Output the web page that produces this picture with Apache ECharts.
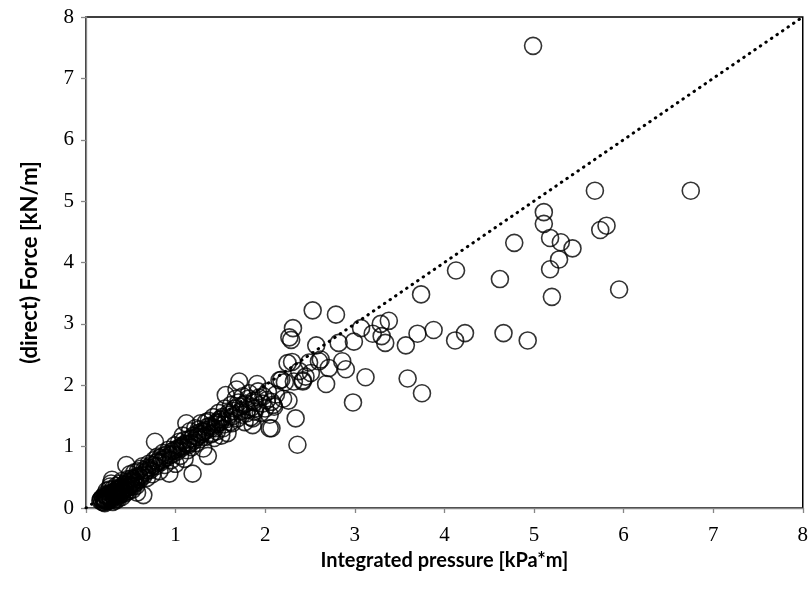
<!DOCTYPE html>
<html><head><meta charset="utf-8">
<script src="https://cdn.jsdelivr.net/npm/echarts@6/dist/echarts.min.js"></script>
<style>html,body{margin:0;padding:0;background:#fff}#c{width:811px;height:591px}</style>
</head><body><div id="c"></div>
<script>
const xTicks = [0,1,2,3,4,5,6,7,8];
const yTicks = [0,1,2,3,4,5,6,7,8];
const xTitle = 'Integrated pressure [kPa*m]';
const yTitle = '(direct) Force [kN/m]';
const refLine = [[0,0],[8,8]];
const pressure = [
0.16,0.18,0.20,0.22,0.24,0.19,0.21,0.25,0.27,0.28,0.30,0.26,0.23,0.29,0.31,0.33,0.34,0.32,0.30,0.27,
0.35,0.36,0.38,0.37,0.34,0.39,0.40,0.41,0.42,0.44,0.43,0.45,0.46,0.48,0.47,0.50,0.52,0.49,0.53,0.55,
0.56,0.58,0.60,0.57,0.62,0.64,0.63,0.66,0.68,0.70,0.72,0.74,0.76,0.77,0.78,0.80,0.82,0.84,0.86,0.88,
0.90,0.92,0.93,0.95,0.97,0.99,1.00,1.02,1.04,1.05,1.07,1.08,1.10,1.11,1.12,1.13,1.15,1.16,1.18,1.19,
1.20,1.22,1.23,1.25,1.27,1.28,1.30,1.31,1.33,1.35,1.36,1.37,1.39,1.40,1.42,1.43,1.45,1.46,1.48,1.50,
1.51,1.53,1.55,1.56,1.57,1.58,1.60,1.62,1.63,1.65,1.67,1.68,1.69,1.71,1.72,1.74,1.75,1.77,1.78,1.80,
1.82,1.84,1.86,1.87,1.89,1.91,1.93,1.95,1.97,2.00,2.03,2.05,2.07,2.07,2.09,2.12,2.16,2.20,2.26,2.22,
0.29,0.45,0.22,0.26,0.33,0.38,0.21,0.24,0.17,0.28,0.31,0.36,0.40,0.44,0.51,0.54,0.59,0.61,0.65,0.69,
0.73,0.79,0.83,0.87,0.91,0.96,1.01,1.06,1.09,1.14,1.17,1.21,1.24,1.26,1.29,1.32,1.34,1.38,1.41,1.44,
1.47,1.49,1.52,1.54,1.59,1.61,1.64,1.66,1.70,1.73,1.76,1.79,1.81,1.85,1.88,1.92,1.98,2.02,1.88,1.86,
0.17,0.19,0.21,0.23,0.25,0.27,0.29,0.31,0.33,0.35,0.37,0.39,0.41,0.43,0.45,0.47,0.49,0.51,0.53,0.55,
0.20,0.24,0.28,0.32,0.36,0.40,0.44,0.48,0.52,0.56,0.60,0.64,0.68,0.72,0.76,0.80,0.85,0.89,0.94,0.98,
1.03,1.08,1.13,1.18,1.24,1.29,1.34,1.40,1.46,1.52,
2.27,2.29,2.31,2.53,2.79,2.57,2.82,2.99,3.07,3.20,3.29,3.38,3.30,3.34,3.70,3.88,3.57,4.12,4.23,4.13,
3.74,2.30,2.49,2.60,2.86,2.71,2.90,2.38,2.45,2.51,2.42,2.68,3.12,3.59,3.75,2.98,2.34,2.36,2.25,2.62,
2.32,2.42,2.18,2.10,2.05,
4.99,5.68,6.75,5.11,5.11,4.78,5.18,5.30,5.43,5.74,5.81,5.28,5.18,4.62,5.95,5.20,4.66,4.93
];
const force = [
0.12,0.10,0.14,0.11,0.16,0.18,0.22,0.12,0.18,0.13,0.10,0.24,0.28,0.22,0.17,0.12,0.20,0.27,0.31,0.35,
0.26,0.15,0.22,0.30,0.36,0.33,0.18,0.27,0.38,0.24,0.31,0.42,0.34,0.28,0.47,0.38,0.30,0.55,0.44,0.50,
0.36,0.60,0.46,0.25,0.54,0.21,0.68,0.58,0.49,0.72,0.62,0.55,0.78,1.08,0.68,0.84,0.60,0.75,0.90,0.70,
0.82,0.95,0.56,0.78,0.88,1.02,0.72,0.92,1.08,0.85,0.98,1.18,0.80,1.05,1.38,0.94,1.12,1.25,0.99,0.56,
1.18,1.30,1.06,1.22,1.12,1.38,1.25,0.97,1.16,1.32,0.85,1.42,1.20,1.30,1.48,1.14,1.36,1.25,1.55,1.40,
1.18,1.30,1.62,1.84,1.45,1.22,1.52,1.68,1.38,1.58,1.78,1.93,1.46,2.06,1.65,1.52,1.82,1.40,1.70,1.60,
1.87,1.48,1.35,1.75,1.62,2.02,1.80,1.55,1.70,1.62,1.90,1.52,1.30,1.73,1.68,1.85,2.08,1.78,1.75,2.05,
0.46,0.70,0.20,0.30,0.26,0.40,0.08,0.20,0.15,0.40,0.24,0.32,0.44,0.36,0.48,0.58,0.52,0.64,0.62,0.66,
0.70,0.74,0.82,0.80,0.88,0.92,0.96,1.00,1.10,1.02,1.06,1.10,1.16,1.28,1.20,1.24,1.40,1.34,1.22,1.30,
1.38,1.44,1.48,1.36,1.55,1.40,1.50,1.62,1.72,1.58,1.68,1.54,1.78,1.64,1.72,1.90,1.82,1.76,1.57,1.46,
0.14,0.16,0.13,0.19,0.21,0.15,0.25,0.20,0.29,0.23,0.32,0.27,0.35,0.30,0.39,0.33,0.43,0.37,0.47,0.42,
0.09,0.11,0.16,0.14,0.19,0.23,0.26,0.34,0.35,0.41,0.50,0.52,0.61,0.65,0.70,0.76,0.78,0.86,0.86,0.94,
0.97,1.02,1.04,1.13,1.15,1.21,1.27,1.33,1.40,1.45,
2.78,2.74,2.93,3.22,3.15,2.65,2.69,2.71,2.93,2.84,3.00,3.05,2.80,2.69,2.84,2.90,2.65,2.73,2.85,3.87,
3.48,2.38,2.37,2.39,2.39,2.28,2.26,2.23,2.14,2.20,2.06,2.02,2.13,2.11,1.87,1.72,1.46,1.03,2.36,2.42,
2.06,2.08,2.09,1.65,1.30,
7.53,5.17,5.17,4.82,4.63,4.32,4.40,4.33,4.23,4.53,4.60,4.05,3.89,3.73,3.56,3.44,2.85,2.73
];
const points = pressure.map((p,i)=>[p, force[i]]);

const chart = echarts.init(document.getElementById('c'));
const axisBase = {
  type:'value', min:0, max:8, interval:1,
  axisLine:{show:true, onZero:false, lineStyle:{color:'#868686', width:1.3}},
  axisTick:{show:true, inside:false, length:5, lineStyle:{color:'#868686', width:1.3}},
  splitLine:{show:false},
  axisLabel:{fontFamily:'Liberation Serif', fontSize:21, color:'#000'},
  nameLocation:'middle'
};
const titleFont = {fontFamily:'Lato', fontWeight:'bold', color:'#000'};
chart.setOption({
  animation:false,
  backgroundColor:'#fff',
  grid:{left:86, right:6, top:17, bottom:83, show:true, borderColor:'#000', borderWidth:1.5, backgroundColor:'transparent'},
  xAxis:Object.assign({}, axisBase, {
    name:xTitle, nameGap:32,
    nameTextStyle:Object.assign({fontSize:20}, titleFont),
    axisLabel:Object.assign({}, axisBase.axisLabel, {margin:17, formatter:v=>xTicks.includes(v)?String(v):''})
  }),
  yAxis:Object.assign({}, axisBase, {
    name:yTitle, nameGap:45,
    nameTextStyle:Object.assign({fontSize:22}, titleFont),
    axisLabel:Object.assign({}, axisBase.axisLabel, {margin:12, formatter:v=>yTicks.includes(v)?String(v):''})
  }),
  series:[
    {type:'scatter', data:points, symbol:'circle', symbolSize:17,
     itemStyle:{color:'rgba(0,0,0,0)', borderColor:'#000', borderWidth:1.6}, z:2},
    {type:'line', data:refLine, symbol:'none', z:3,
     lineStyle:{color:'#000', width:3, type:[0.5,6.2], cap:'round'}}
  ]
});
</script></body></html>
